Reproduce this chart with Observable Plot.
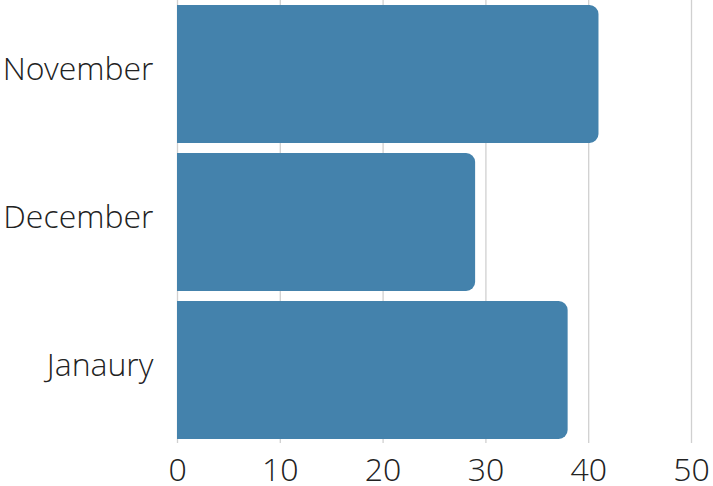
<!DOCTYPE html>
<html>
<head>
<meta charset="utf-8">
<script src="https://cdn.jsdelivr.net/npm/d3@7"></script>
<script src="https://cdn.jsdelivr.net/npm/@observablehq/plot@0.6"></script>
<style>
  html, body { margin: 0; padding: 0; background: #fff; }
  #chart svg { display: block; }
</style>
</head>
<body>
<div id="chart"></div>
<script>
// Monthly totals
const months = ["November", "December", "Janaury"];
const values = [41, 29, 38];
const xTicks = [0, 10, 20, 30, 40, 50];

const data = months.map((month, i) => ({month, value: values[i]}));

const font = "'Open Sans Light', 'Open Sans', sans-serif";

const chart = Plot.plot({
  width: 713,
  height: 486,
  marginTop: 0,
  marginLeft: 177,
  marginRight: 22,
  marginBottom: 43,
  style: {fontFamily: font, fontWeight: 300, fontSize: "32px", color: "#222", background: "#fff"},
  x: {domain: [0, 50], ticks: xTicks, label: null},
  y: {domain: months, label: null, paddingInner: 0.07, paddingOuter: 0.025},
  marks: [
    Plot.gridX(xTicks, {stroke: "#d0d0d0", strokeOpacity: 1, strokeWidth: 1.3}),
    Plot.barX(data, {x: "value", y: "month", fill: "#4482ac", rx2: 9}),
    Plot.axisX({ticks: xTicks, tickSize: 0, tickPadding: 15, fontSize: 32, fontWeight: 300, label: null}),
    Plot.axisY({tickSize: 0, tickPadding: 24, fontSize: 32, fontWeight: 300, dy: -5, label: null})
  ]
});

document.getElementById("chart").append(chart);
</script>
</body>
</html>
